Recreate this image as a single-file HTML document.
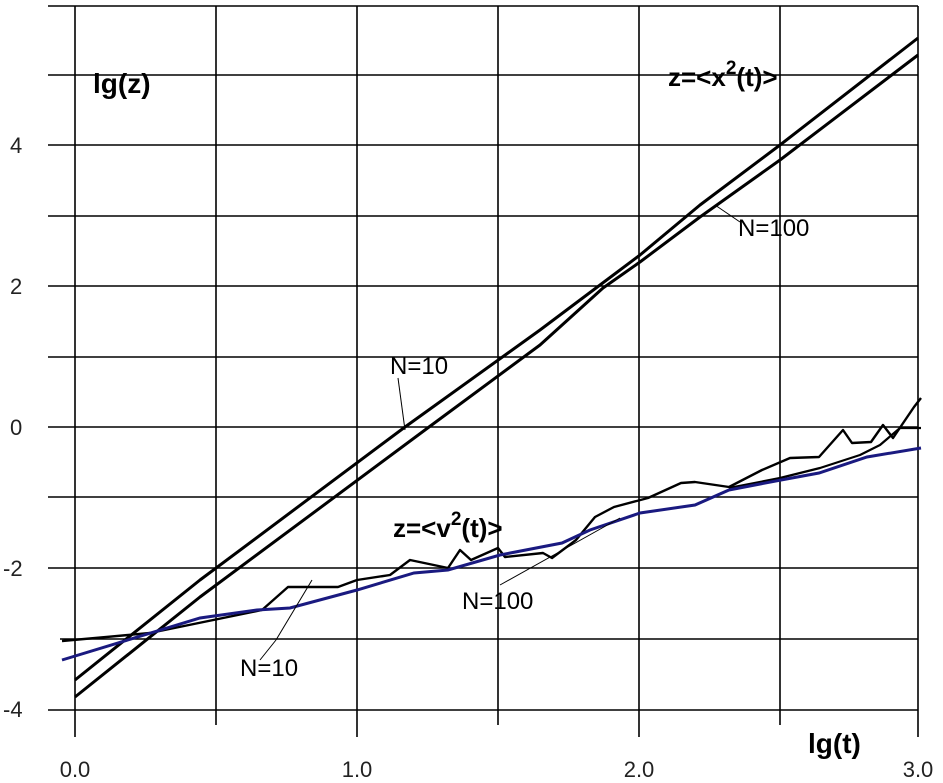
<!DOCTYPE html><html><head><style>body{margin:0;background:#fff}svg{display:block}</style></head><body>
<svg width="943" height="783" xmlns="http://www.w3.org/2000/svg" font-family="Liberation Sans, Arial, sans-serif">
<g stroke="#000" stroke-width="1.6" fill="none">
<line x1="48" y1="6" x2="918" y2="6"/>
<line x1="48" y1="75" x2="918" y2="75"/>
<line x1="48" y1="145" x2="918" y2="145"/>
<line x1="48" y1="216" x2="918" y2="216"/>
<line x1="48" y1="286" x2="918" y2="286"/>
<line x1="48" y1="357" x2="918" y2="357"/>
<line x1="48" y1="427" x2="918" y2="427"/>
<line x1="48" y1="497" x2="918" y2="497"/>
<line x1="48" y1="568" x2="918" y2="568"/>
<line x1="60" y1="639" x2="918" y2="639"/>
<line x1="48" y1="710" x2="918" y2="710"/>
<line x1="75" y1="6" x2="75" y2="737"/>
<line x1="216" y1="6" x2="216" y2="725"/>
<line x1="357" y1="6" x2="357" y2="737"/>
<line x1="498" y1="6" x2="498" y2="725"/>
<line x1="639" y1="6" x2="639" y2="737"/>
<line x1="780" y1="6" x2="780" y2="725"/>
<line x1="918" y1="6" x2="918" y2="737"/>
</g>
<g stroke="#000" stroke-width="3" fill="none" stroke-linejoin="round">
<polyline points="75,680 200,580 405,427 540,330 596,288 640,255 700,205 780,145 918,38"/>
<polyline points="75,697 200,597 429,427 540,345 603,288 640,262 700,217 780,160 918,55"/>
<polyline stroke-width="2.4" points="62,641 150,633 262,610 288,587 338,587 357,580 390,575 410,560 448,568 460,550 471,560 498,548 505,557 543,553 552,558 576,540 595,517 614,507 648,498 681,483 695,482 729,487 762,470 790,458 819,457 843,430 852,443 871,442 883,425 893,438 914,407 921,398"/>
<polyline stroke-width="2.2" points="729,488 780,478 820,468 860,455 880,445 900,428 921,428"/>
</g>
<polyline stroke="#1a1a80" stroke-width="3" fill="none" points="62,660 200,618 257,610 290,608 357,590 414,573 448,570 500,555 562,543 590,530 640,513 695,505 729,490 781,480 819,473 867,457 921,448"/>
<g stroke="#000" stroke-width="1">
<line x1="740" y1="222" x2="715" y2="205"/>
<line x1="398" y1="378" x2="405" y2="430"/>
<line x1="500" y1="585" x2="620" y2="518"/>
<line x1="276" y1="640" x2="312" y2="580"/>
<line x1="260" y1="660" x2="276" y2="640"/>
</g>
<g font-weight="bold" font-size="28" fill="#000">
<text x="93" y="93">lg(z)</text>
<text x="808" y="753">lg(t)</text>
<text x="668" y="86" font-size="26">z=&lt;x<tspan font-size="19" dy="-12">2</tspan><tspan dy="12">(t)&gt;</tspan></text>
<text x="393" y="537" font-size="26">z=&lt;v<tspan font-size="19" dy="-12">2</tspan><tspan dy="12">(t)&gt;</tspan></text>
</g>
<g font-size="24" fill="#000">
<text x="738" y="236">N=100</text>
<text x="390" y="374">N=10</text>
<text x="462" y="609">N=100</text>
<text x="240" y="676">N=10</text>
</g>
<g font-size="22" fill="#222">
<text x="10" y="153">4</text>
<text x="10" y="294">2</text>
<text x="10" y="435">0</text>
<text x="3" y="576">-2</text>
<text x="3" y="717">-4</text>
<text x="75" y="777" text-anchor="middle">0.0</text>
<text x="357" y="777" text-anchor="middle">1.0</text>
<text x="639" y="777" text-anchor="middle">2.0</text>
<text x="918" y="777" text-anchor="middle">3.0</text>
</g>
</svg></body></html>
